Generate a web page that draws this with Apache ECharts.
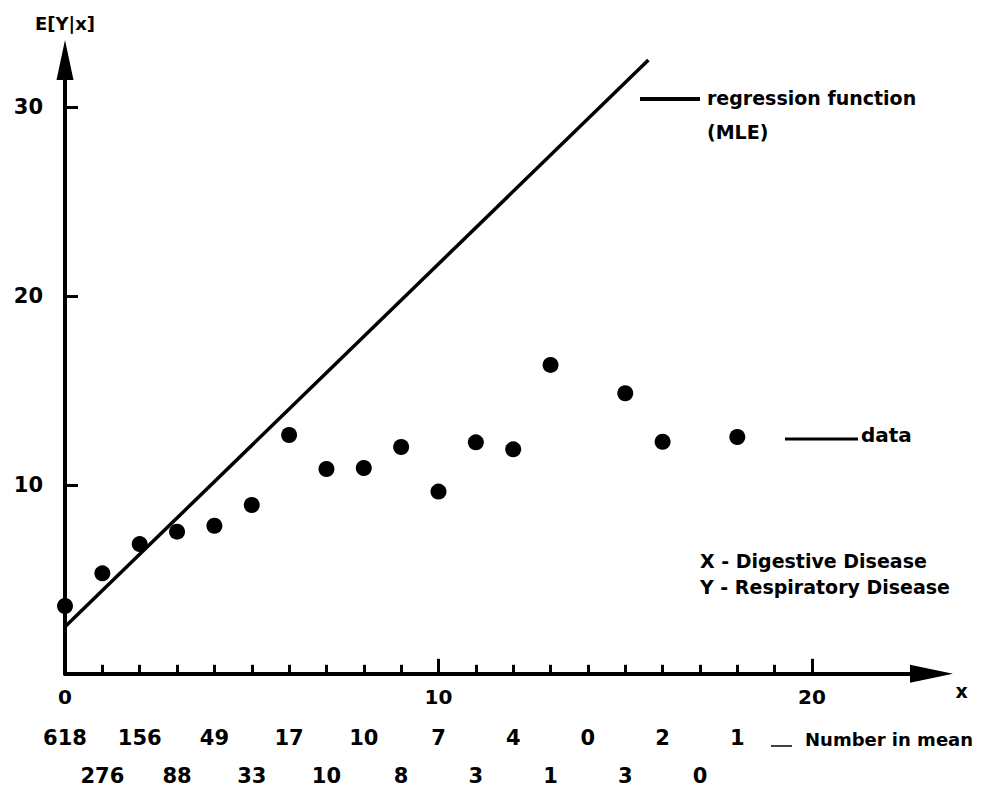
<!DOCTYPE html>
<html><head><meta charset="utf-8">
<script src="https://cdn.jsdelivr.net/npm/echarts@6.0.0/dist/echarts.min.js"></script>
<style>html,body{margin:0;padding:0;background:#fff}#c{width:987px;height:792px}</style>
</head><body><div id="c"></div>
<script>
// Data
const pointX = [0, 1, 2, 3, 4, 5, 6, 7, 8, 9, 10, 11, 12, 13, 15, 16, 18];
const pointY = [3.59, 5.32, 6.87, 7.53, 7.84, 8.94, 12.65, 10.85, 10.90, 12.01, 9.65, 12.26, 11.89, 16.36, 14.86, 12.29, 12.54];
const regressionX = [0, 15.62];
const regressionY = [2.49, 32.51];
const countX = [0, 1, 2, 3, 4, 5, 6, 7, 8, 9, 10, 11, 12, 13, 14, 15, 16, 17, 18];
const countInMean = [618, 276, 156, 88, 49, 33, 17, 10, 10, 8, 7, 3, 4, 1, 0, 3, 2, 0, 1];
const xTickLabels = [0, 10, 20];
const yTickLabels = [10, 20, 30];

const FONT = 'DejaVu Sans';
const countMap = {};
countX.forEach((x, i) => { countMap[x] = countInMean[i]; });

const chart = echarts.init(document.getElementById('c'), null, {renderer: 'svg'});

const baseX = {
  gridIndex: 0, type: 'value', min: 0, max: 20, position: 'bottom',
  axisLine: {show: false, onZero: false}, splitLine: {show: false}
};
const txt = (size) => ({color: '#000', fontFamily: FONT, fontWeight: 'bold', fontSize: size});

chart.setOption({
  backgroundColor: '#fff',
  animation: false,
  grid: [
    {left: 65, right: 175, top: 107.4, bottom: 118.2},
    {left: 65, right: 55.5, top: 60, bottom: 118.2}
  ],
  xAxis: [
    Object.assign({}, baseX, {
      interval: 1,
      axisTick: {show: true, inside: true, length: 9, lineStyle: {color: '#000', width: 3}},
      axisLabel: {show: false}
    }),
    Object.assign({}, baseX, {
      interval: 10,
      axisTick: {show: true, inside: true, length: 15, lineStyle: {color: '#000', width: 3}},
      axisLabel: Object.assign({margin: 13, formatter: v => xTickLabels.indexOf(v) >= 0 ? String(v) : ''}, txt(20))
    }),
    Object.assign({}, baseX, {
      interval: 1,
      axisTick: {show: false},
      axisLabel: Object.assign({margin: 54, formatter: v => (v % 2 === 0 && countMap[v] !== undefined) ? String(countMap[v]) : ''}, txt(21))
    }),
    Object.assign({}, baseX, {
      interval: 1,
      axisTick: {show: false},
      axisLabel: Object.assign({margin: 92, formatter: v => (v % 2 === 1 && countMap[v] !== undefined) ? String(countMap[v]) : ''}, txt(21))
    }),
    {
      gridIndex: 1, type: 'value', min: 0, max: 1, position: 'bottom',
      axisLine: {show: true, onZero: false, symbol: ['none', 'triangle'], symbolSize: [18, 43], lineStyle: {color: '#000', width: 4}},
      axisTick: {show: false}, axisLabel: {show: false}, splitLine: {show: false},
      name: 'x', nameLocation: 'end', nameGap: 24,
      nameTextStyle: Object.assign({verticalAlign: 'top', padding: [8, 0, 0, 0]}, txt(19))
    }
  ],
  yAxis: [
    {
      gridIndex: 0, type: 'value', min: 0, max: 30, interval: 10, position: 'left',
      axisLine: {show: false, onZero: false},
      axisTick: {show: true, inside: true, length: 13, lineStyle: {color: '#000', width: 3}},
      axisLabel: Object.assign({margin: 22, formatter: v => yTickLabels.indexOf(v) >= 0 ? String(v) : ''}, txt(21)),
      splitLine: {show: false}
    },
    {
      gridIndex: 1, type: 'value', min: 0, max: 1, position: 'left',
      axisLine: {show: true, onZero: false, symbol: ['none', 'triangle'], symbolSize: [17, 40], lineStyle: {color: '#000', width: 4}},
      axisTick: {show: false}, axisLabel: {show: false}, splitLine: {show: false},
      name: 'E[Y|x]', nameLocation: 'end', nameGap: 28,
      nameTextStyle: Object.assign({align: 'center'}, txt(18))
    }
  ],
  series: [
    {
      type: 'line', xAxisIndex: 0, yAxisIndex: 0, clip: false, symbol: 'none',
      data: regressionX.map((x, i) => [x, regressionY[i]]),
      lineStyle: {color: '#000', width: 3.5}, z: 3
    },
    {
      type: 'scatter', xAxisIndex: 0, yAxisIndex: 0, clip: false, symbol: 'circle', symbolSize: 16,
      data: pointX.map((x, i) => [x, pointY[i]]),
      itemStyle: {color: '#000', opacity: 1}, z: 4
    }
  ],
  graphic: [
    {type: 'line', shape: {x1: 640, y1: 99, x2: 700, y2: 99}, style: {stroke: '#000', lineWidth: 4}},
    {type: 'text', left: 707, top: 88, style: {text: 'regression function', fill: '#000', font: 'bold 19px "DejaVu Sans"'}},
    {type: 'text', left: 707, top: 122, style: {text: '(MLE)', fill: '#000', font: 'bold 19px "DejaVu Sans"'}},
    {type: 'line', shape: {x1: 785, y1: 439, x2: 858, y2: 439}, style: {stroke: '#000', lineWidth: 3}},
    {type: 'text', left: 861, top: 425, style: {text: 'data', fill: '#000', font: 'bold 20px "DejaVu Sans"'}},
    {type: 'text', left: 700, top: 551, style: {text: 'X - Digestive Disease', fill: '#000', font: 'bold 19px "DejaVu Sans"'}},
    {type: 'text', left: 700, top: 577, style: {text: 'Y - Respiratory Disease', fill: '#000', font: 'bold 19px "DejaVu Sans"'}},
    {type: 'line', shape: {x1: 771, y1: 746, x2: 792, y2: 746}, style: {stroke: '#000', lineWidth: 1.5}},
    {type: 'text', left: 805, top: 730, style: {text: 'Number in mean', fill: '#000', font: 'bold 18px "DejaVu Sans"'}}
  ]
});
</script>
</body></html>
